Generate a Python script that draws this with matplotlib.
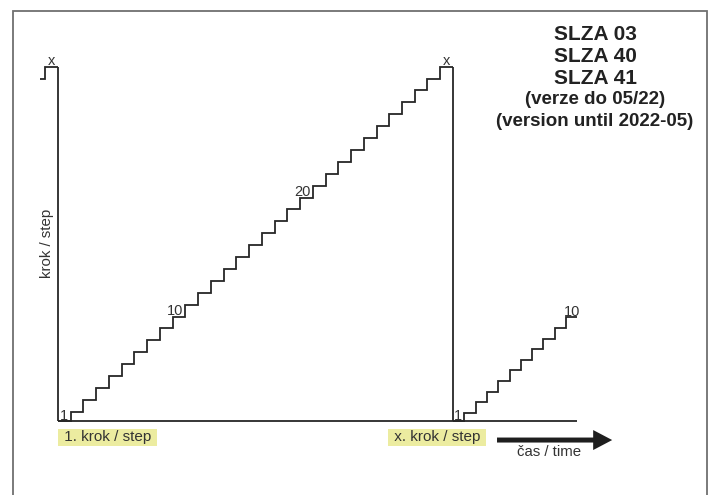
import numpy as np
import matplotlib
matplotlib.use("Agg")
import matplotlib.pyplot as plt
from matplotlib.patches import Rectangle

plt.rcParams["font.family"] = ["Liberation Sans", "DejaVu Sans"]

# ---------------------------
# data: step numbers of each run
# ---------------------------
MAIN_STEPS = np.arange(1, 31)        # 1. krok ... x. krok
NEXT_STEPS = np.arange(1, 11)        # next run, shown up to step 10
PREV_TAIL_STEPS = [29, 30]           # end of previous run at the left edge
MAIN_MARKS = [(1, "1", "side"), (10, "10", "side"), (20, "20", "side"), (30, "x", "top")]
NEXT_MARKS = [(1, "1", "side"), (10, "10", "top")]
PREV_MARKS = [(30, "x", "top")]
TITLE_LINES = ["SLZA 03", "SLZA 40", "SLZA 41", "(verze do 05/22)", "(version until 2022-05)"]
TITLE_SIZES = [15, 15, 15, 13.5, 13.5]

# ---------------------------
# layout (pixels of a 712x495 figure)
# ---------------------------
W, H = 712, 495
BASE = 0.22          # level of the time axis (step 1 is a bit lower than the others)
BASE_PX = 74         # time axis height from the bottom
PREV_CUT = -1.45     # where the previous run is cut off
LINE = dict(color="#262626", lw=1.3, solid_joinstyle="miter", solid_capstyle="butt")
TXT = "#333333"
HIGHLIGHT = "#ececa0"


def overlay_axes(fig, x0_px, ux, uy):
    """Full-figure axes: time 0 at x0_px, one step = ux by uy pixels."""
    ax = fig.add_axes([0, 0, 1, 1])
    ax.set_xlim(-x0_px / ux, (W - x0_px) / ux)
    ax.set_ylim(BASE - BASE_PX / uy, BASE + (H - BASE_PX) / uy)
    ax.axis("off")
    ax.patch.set_alpha(0)
    return ax


def draw_run(ax, steps, drop=True):
    end = steps[-1] + 1
    x = np.r_[0, steps, end]
    y = np.r_[BASE, steps, steps[-1]]
    ax.step(x, y, where="post", **LINE)
    ax.plot([0, end], [BASE, BASE], **LINE)       # time axis under the run
    if drop:
        ax.plot([end, end], [steps[-1], BASE], **LINE)


def draw_marks(ax, marks, shift=0):
    for step, text, where in marks:
        if where == "side":
            ax.text(step + shift - 0.2, max(step - 1, BASE) + 0.1, text,
                    ha="right", va="baseline", fontsize=10.5, color=TXT)
        else:
            ax.text(step + shift + 0.5, step + 0.12, text,
                    ha="center", va="baseline", fontsize=10.5, color=TXT)


fig = plt.figure(figsize=(W / 100, H / 100), dpi=100)

ax = overlay_axes(fig, 58, 12.74, 11.9)
ax2 = overlay_axes(fig, 453, 11.3, 10.6)

# previous run (only its last steps are visible)
n_main = len(MAIN_STEPS)
prev_x = np.r_[PREV_CUT, np.array(PREV_TAIL_STEPS[1:]) - (n_main + 1), 0]
prev_y = np.r_[PREV_TAIL_STEPS, PREV_TAIL_STEPS[-1]]
ax.step(prev_x, prev_y, where="post", **LINE)
ax.plot([0, 0], [PREV_TAIL_STEPS[-1], BASE], **LINE)
draw_marks(ax, PREV_MARKS, shift=-(n_main + 1))

# main run and the next one
draw_run(ax, MAIN_STEPS)
draw_marks(ax, MAIN_MARKS)
draw_run(ax2, NEXT_STEPS, drop=False)
draw_marks(ax2, NEXT_MARKS)

# axis texts
ax.text(-0.86, (BASE + MAIN_STEPS[-1]) / 2, "krok / step", rotation=90,
        ha="center", va="center", fontsize=10.8, color=TXT)
box = dict(boxstyle="square,pad=0.1", fc=HIGHLIGHT, ec="none")
ax.text(0.12, -1.15, " 1. krok / step ", ha="left", va="center",
        fontsize=11, color=TXT, bbox=box)
ax.text(29.75, -1.15, " x. krok / step ", ha="center", va="center",
        fontsize=11, color=TXT, bbox=box)

# time arrow
ax.annotate("", xy=(43.5, -1.38), xytext=(34.46, -1.38),
            arrowprops=dict(arrowstyle="simple,head_length=1.37,head_width=1.44,tail_width=0.36",
                            mutation_scale=10, fc="#1e1e1e", ec="none", lw=0,
                            shrinkA=0, shrinkB=0))
ax.text(38.58, -2.36, "čas / time", ha="center", va="center", fontsize=10.8, color=TXT)

# title block
ys = [35, 57, 78, 99, 121]
for line, size, y in zip(TITLE_LINES, TITLE_SIZES, ys):
    fig.text(595 / W, 1 - y / H, line, ha="center", va="center",
             fontsize=size, fontweight="bold", color="#222222")

# frame, open at the bottom
frame = Rectangle((13 / W, -0.05), (706.5 - 13) / W, 1 - 10.7 / H + 0.05,
                  transform=fig.transFigure, fill=False, ec="#707070", lw=1.3)
fig.add_artist(frame)

fig.savefig("out.png", dpi=100)
